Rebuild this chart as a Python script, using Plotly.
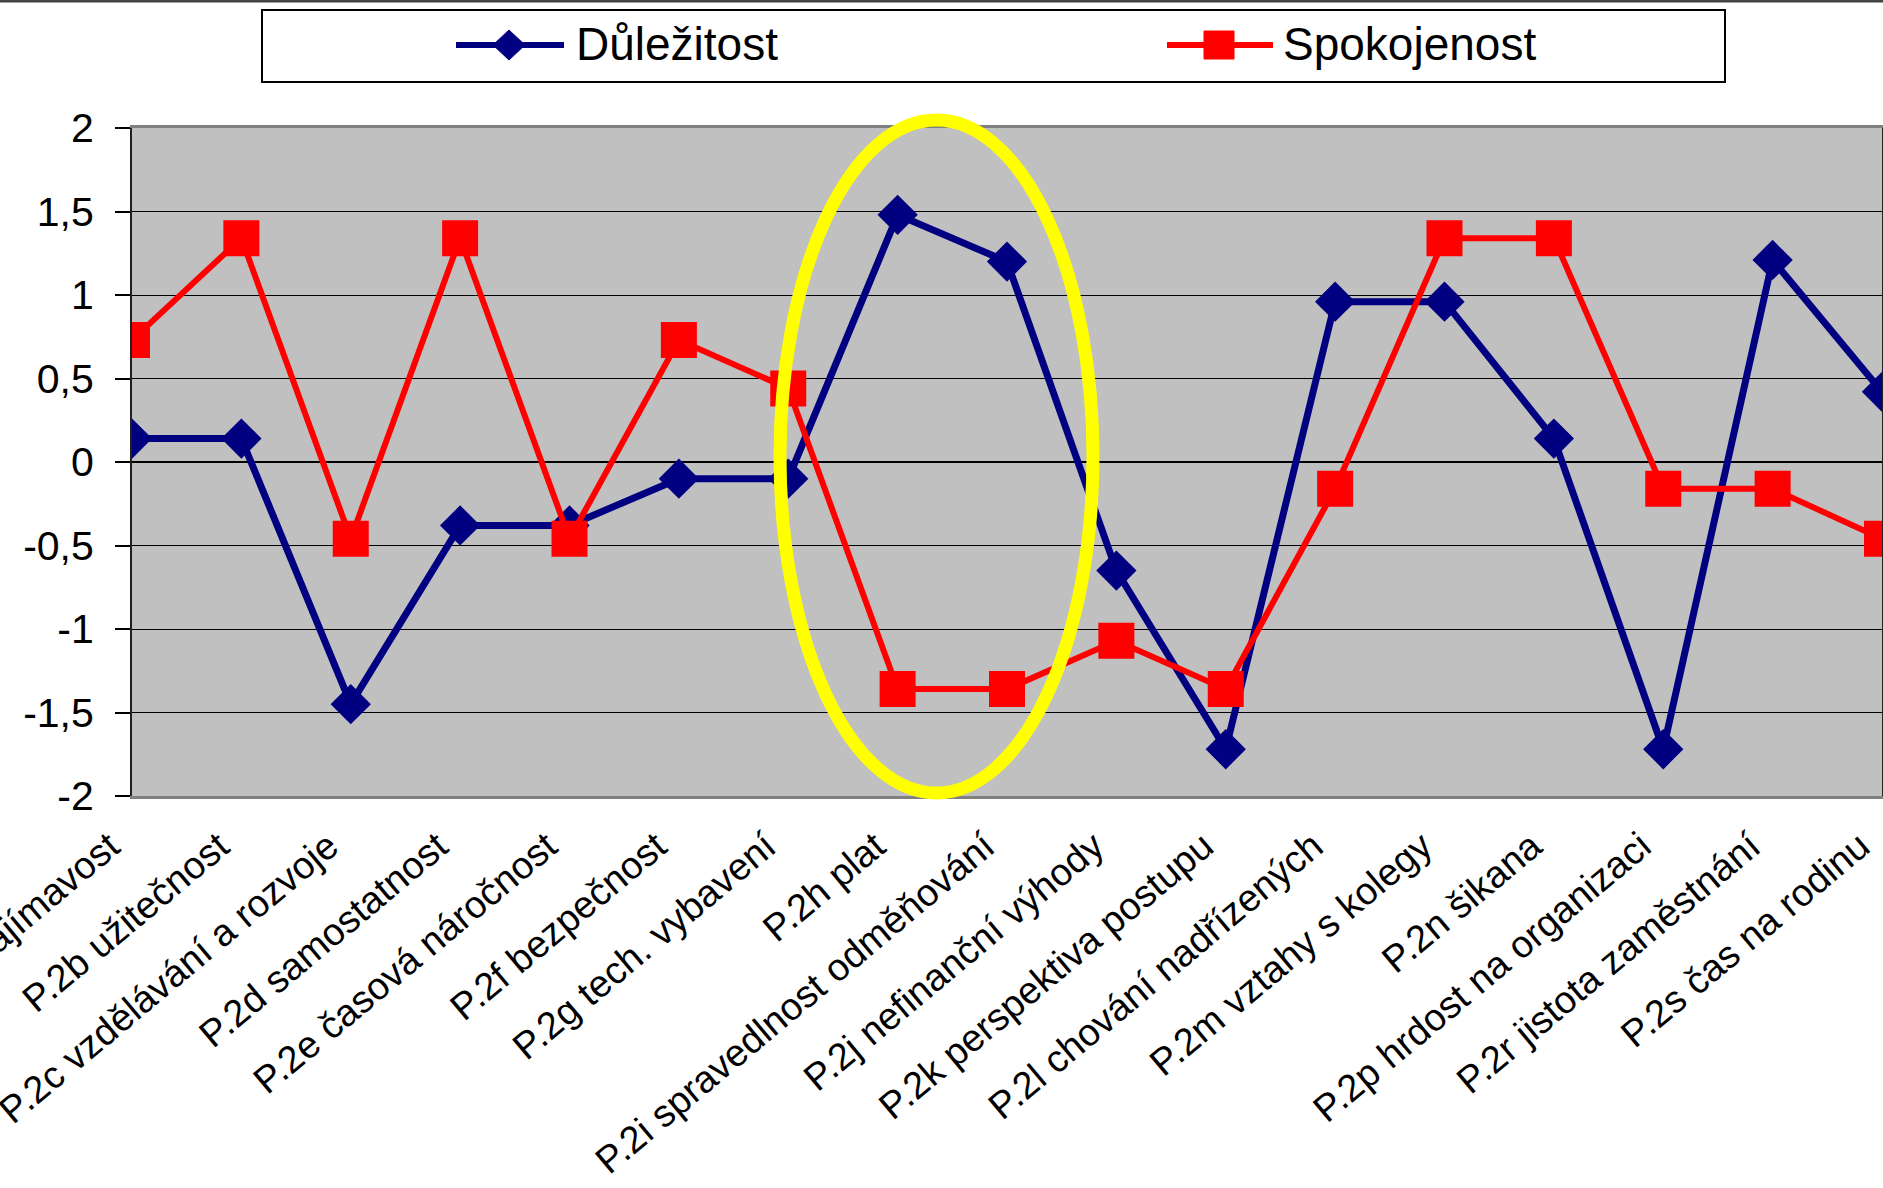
import plotly.graph_objects as go

# ---------------- data ----------------
categories = [
    "P.2a zajímavost",
    "P.2b užitečnost",
    "P.2c vzdělávání a rozvoje",
    "P.2d samostatnost",
    "P.2e časová náročnost",
    "P.2f bezpečnost",
    "P.2g tech. vybavení",
    "P.2h plat",
    "P.2i spravedlnost odměňování",
    "P.2j nefinanční výhody",
    "P.2k perspektiva postupu",
    "P.2l chování nadřízených",
    "P.2m vztahy s kolegy",
    "P.2n šikana",
    "P.2p hrdost na organizaci",
    "P.2r jistota zaměstnání",
    "P.2s čas na rodinu",
]
dulezitost = [0.14, 0.14, -1.45, -0.38, -0.38, -0.10, -0.10, 1.48, 1.20, -0.65,
              -1.72, 0.96, 0.96, 0.14, -1.72, 1.21, 0.42]
spokojenost = [0.73, 1.34, -0.46, 1.34, -0.46, 0.73, 0.44, -1.36, -1.36, -1.07,
               -1.36, -0.16, 1.34, 1.34, -0.16, -0.16, -0.46]
series_names = ["Důležitost", "Spokojenost"]
y_tick_values = [-2, -1.5, -1, -0.5, 0, 0.5, 1, 1.5, 2]
y_tick_labels = ["-2", "-1,5", "-1", "-0,5", "0", "0,5", "1", "1,5", "2"]

# ---------------- style ----------------
W, H = 1883, 1188
ML, MR, MT, MB = 132, 1, 128, 392
PW, PH = W - ML - MR, H - MT - MB
BLUE = "#000080"
RED = "#FF0000"
FONT = "Liberation Sans, Arial, sans-serif"


def px(x):
    return (x - ML) / PW


def py(y):
    return (H - MB - y) / PH


fig = go.Figure()
fig.add_trace(go.Scatter(
    x=categories, y=dulezitost, name=series_names[0], mode="lines+markers",
    line=dict(color=BLUE, width=7),
    marker=dict(symbol="diamond", size=31, color=BLUE),
    showlegend=False, xaxis="x", yaxis="y",
))
fig.add_trace(go.Scatter(
    x=categories, y=spokojenost, name=series_names[1], mode="lines+markers",
    line=dict(color=RED, width=6),
    marker=dict(symbol="square", size=36, color=RED),
    showlegend=False, xaxis="x", yaxis="y",
))

shapes = []
annotations = []

# chart frame line at very top
shapes.append(dict(type="line", xref="paper", yref="paper",
                   x0=px(0), x1=px(W), y0=py(1), y1=py(1),
                   line=dict(color="#444444", width=3)))

# manual legend box
shapes.append(dict(type="rect", xref="paper", yref="paper",
                   x0=px(262), x1=px(1725), y0=py(10), y1=py(82),
                   line=dict(color="#000000", width=2), fillcolor="white"))
leg_items = [
    (456, 564, 509, BLUE, "diamond", 574, series_names[0]),
    (1167, 1273, 1219, RED, "square", 1281, series_names[1]),
]
ly = 45
for x0, x1, xc, col, sym, tx, name in leg_items:
    shapes.append(dict(type="line", xref="paper", yref="paper",
                       x0=px(x0), x1=px(x1), y0=py(ly), y1=py(ly),
                       line=dict(color=col, width=6)))
    if sym == "diamond":
        shapes.append(dict(type="path", xref="paper", yref="paper",
                           path=f"M {px(xc-16)},{py(ly)} L {px(xc)},{py(ly-15)} L {px(xc+16)},{py(ly)} L {px(xc)},{py(ly+15)} Z",
                           fillcolor=col, line=dict(color=col, width=1)))
    else:
        shapes.append(dict(type="rect", xref="paper", yref="paper",
                           x0=px(xc-15), x1=px(xc+15), y0=py(ly-14), y1=py(ly+14),
                           fillcolor=col, line=dict(color=col, width=1)))
    annotations.append(dict(xref="paper", yref="paper", x=px(tx), y=py(44),
                            xanchor="left", yanchor="middle", showarrow=False,
                            text=name, font=dict(family=FONT, size=46, color="black")))

# yellow highlight ellipse
shapes.append(dict(type="circle", xref="paper", yref="paper", layer="above",
                   x0=px(780), x1=px(1093), y0=py(793), y1=py(120),
                   line=dict(color="#FFFF00", width=13)))

fig.update_layout(
    width=W, height=H,
    margin=dict(l=ML, r=MR, t=MT, b=MB, autoexpand=False),
    paper_bgcolor="white",
    plot_bgcolor="#C0C0C0",
    showlegend=False,
    font=dict(family=FONT, color="black"),
    shapes=shapes,
    annotations=annotations,
    xaxis=dict(
        type="category", categoryorder="array", categoryarray=categories,
        range=[0, len(categories) - 1],
        showgrid=False, zeroline=False,
        showline=True, linecolor="#808080", linewidth=3, mirror=True,
        ticks="", tickangle=-40, tickfont=dict(size=38, family=FONT, color="black"),
        ticklabelstandoff=10, ticklabelshift=-22, automargin=False,
    ),
    xaxis2=dict(
        overlaying="x", anchor="free", position=0.5, type="linear",
        range=[0, len(categories) - 1], dtick=1, tick0=0,
        showticklabels=False, ticks="outside", ticklen=10, tickwidth=2,
        tickcolor="black", showgrid=False, zeroline=False, showline=False,
    ),
    yaxis=dict(
        range=[-2, 2], tickvals=y_tick_values, ticktext=y_tick_labels,
        showgrid=True, gridcolor="#000000", gridwidth=1.3,
        zeroline=True, zerolinecolor="#000000", zerolinewidth=2,
        showline=True, linecolor="#202020", linewidth=2, mirror=True,
        ticks="outside", ticklen=15, tickwidth=2, tickcolor="black",
        tickfont=dict(size=41, family=FONT, color="black"),
        ticklabelstandoff=13, automargin=False,
    ),
)

fig.write_html(
    "out.html",
    config={"displayModeBar": False},
    post_script="document.body.style.margin='0';document.body.style.overflow='hidden';",
)
